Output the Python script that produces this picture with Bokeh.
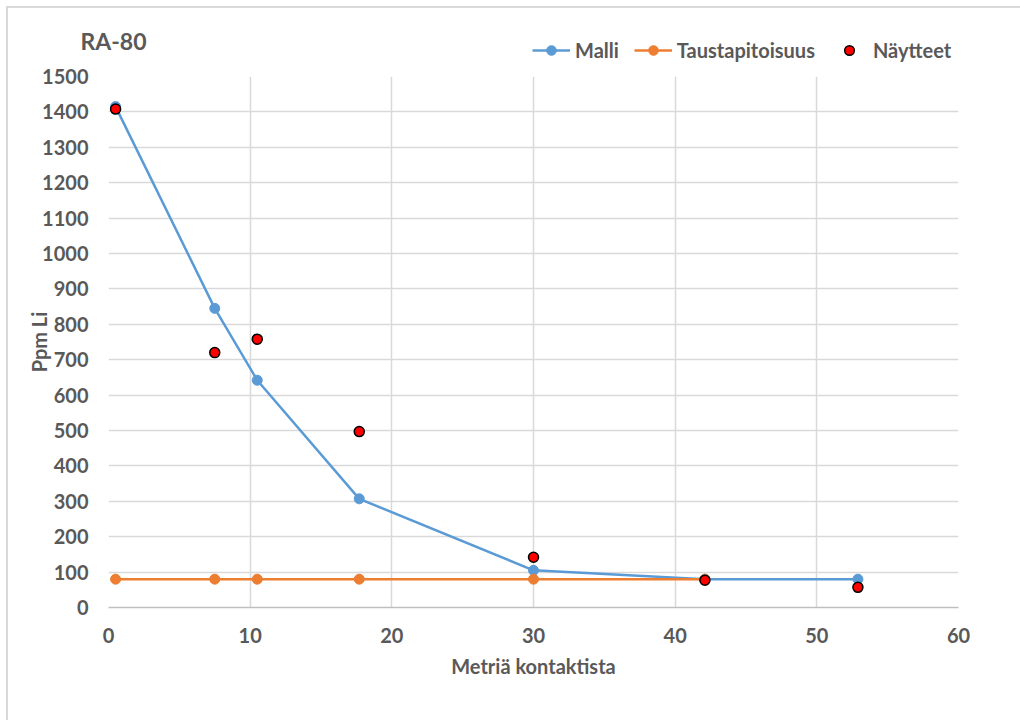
from bokeh.plotting import figure
from bokeh.layouts import column
from bokeh.models import Legend, LegendItem, SingleIntervalTicker, Label, Range1d
from bokeh.embed import file_html
from bokeh.resources import INLINE

# Data
malli_x = [0.5, 7.5, 10.5, 17.7, 30.0, 42.1, 52.9]
malli_y = [1415, 845, 642, 307, 105, 80, 80]
tausta_x = [0.5, 7.5, 10.5, 17.7, 30.0, 42.1]
tausta_y = [80, 80, 80, 80, 80, 80]
nayte_x = [0.5, 7.5, 10.5, 17.7, 30.0, 42.1, 52.9]
nayte_y = [1408, 720, 758, 497, 142, 77, 57]

FONT = "Lato"
TXT = "#595959"
BLUE = "#5b9bd5"
ORANGE = "#ed7d31"
NAN = float("nan")

# ---- header (title + legend) ----
h = figure(width=1012, height=56, output_backend="svg", toolbar_location=None,
           x_range=Range1d(8, 1020), y_range=Range1d(64, 8),
           x_axis_location=None, y_axis_location=None,
           min_border=0, min_border_left=0, min_border_right=0,
           min_border_top=0, min_border_bottom=0)
h.frame_align = False
h.grid.visible = False
h.outline_line_color = None
h.background_fill_color = "white"
h.border_fill_color = "white"

h.add_layout(Label(x=80, y=40, text="RA-80", text_font=FONT, text_font_size="23px",
                   text_font_style="bold", text_color=TXT,
                   text_align="left", text_baseline="middle"))

# legend proxies (no visible data)
g1 = h.line([NAN], [NAN], line_color=BLUE, line_width=2.5)
g1m = h.scatter([NAN], [NAN], size=10, fill_color=BLUE, line_color=BLUE)
g2 = h.line([NAN], [NAN], line_color=ORANGE, line_width=2.5)
g2m = h.scatter([NAN], [NAN], size=10, fill_color=ORANGE, line_color=ORANGE)
g3 = h.scatter([NAN], [NAN], size=10, fill_color="red", line_color="black", line_width=1.5)

legend = Legend(items=[LegendItem(label="Malli", renderers=[g1, g1m]),
                       LegendItem(label="Taustapitoisuus", renderers=[g2, g2m]),
                       LegendItem(label="Näytteet", renderers=[g3])],
                orientation="horizontal", location=(524, 2),
                label_text_font=FONT, label_text_font_size="20px", label_text_font_style="bold",
                label_text_color=TXT, background_fill_alpha=0, border_line_color=None,
                glyph_width=38, glyph_height=24, label_height=24,
                spacing=15, label_standoff=5, padding=0, margin=0)
h.add_layout(legend, "center")

# ---- main chart ----
p = figure(width=1012, height=656, output_backend="svg", toolbar_location=None,
           x_range=(0, 60), y_range=(0, 1500), title=None,
           min_border_left=100, min_border_right=62, min_border_top=12, min_border_bottom=113)
p.frame_align = False
p.outline_line_color = None
p.background_fill_color = "white"
p.border_fill_color = "white"

p.line(malli_x, malli_y, line_color=BLUE, line_width=2.5)
p.scatter(malli_x, malli_y, size=10, fill_color=BLUE, line_color=BLUE)
p.line(tausta_x, tausta_y, line_color=ORANGE, line_width=2.5)
p.scatter(tausta_x, tausta_y, size=10, fill_color=ORANGE, line_color=ORANGE)
p.scatter(nayte_x, nayte_y, size=10, fill_color="red", line_color="black", line_width=1.5)

p.xaxis.ticker = SingleIntervalTicker(interval=10)
p.yaxis.ticker = SingleIntervalTicker(interval=100)
for ax in (p.xaxis[0], p.yaxis[0]):
    ax.major_tick_line_color = None
    ax.minor_tick_line_color = None
    ax.major_label_text_font = FONT
    ax.major_label_text_font_size = "20px"
    ax.major_label_text_font_style = "bold"
    ax.major_label_text_color = TXT
    ax.axis_label_text_font = FONT
    ax.axis_label_text_font_size = "20px"
    ax.axis_label_text_font_style = "bold"
    ax.axis_label_text_color = TXT
p.yaxis.axis_line_color = None
p.xaxis.axis_line_color = "#bfbfbf"
p.xaxis.axis_line_width = 1.5
p.xaxis.major_label_standoff = 14
p.yaxis.major_label_standoff = 14
p.xaxis.axis_label = "Metriä kontaktista"
p.yaxis.axis_label = "Ppm Li"
p.xaxis.axis_label_standoff = 8
p.yaxis.axis_label_standoff = -12
p.grid.grid_line_color = "#d9d9d9"
p.grid.grid_line_width = 1.5

layout = column(h, p, spacing=0,
                styles={"border-top": "2px solid #d9d9d9", "border-left": "2px solid #d9d9d9",
                        "margin-top": "6px", "margin-left": "6px"})

open("out.html", "w").write(file_html(layout, INLINE))
